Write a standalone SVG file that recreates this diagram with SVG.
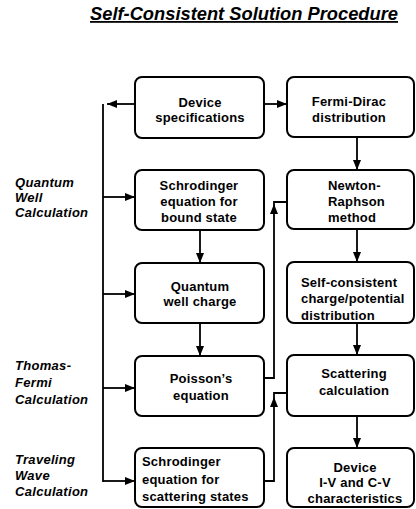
<svg xmlns="http://www.w3.org/2000/svg" xmlns:xlink="http://www.w3.org/1999/xlink" width="416" height="509" viewBox="0 0 416 509">
<style>
.box{fill:#fff;stroke:#000;stroke-width:2}
.t{font-family:"Liberation Sans",Arial,sans-serif;font-weight:bold;font-size:13px;letter-spacing:0.2px;fill:#000}
.c{text-anchor:middle}
.lab{font-family:"Liberation Sans",Arial,sans-serif;font-weight:bold;font-style:italic;font-size:13px;letter-spacing:0.3px;fill:#000}
.ttl{font-family:"Liberation Sans",Arial,sans-serif;font-weight:bold;font-style:italic;font-size:18px;text-decoration:underline;fill:#000}
.ln{fill:none;stroke:#000;stroke-width:1.8}
</style>
<defs>
<marker id="ah" viewBox="0 0 10 8" refX="10" refY="4" markerWidth="10" markerHeight="8" markerUnits="userSpaceOnUse" orient="auto">
<path d="M0,0 L10,4 L0,8 Z" fill="#000"/>
</marker>
<path id="up" d="M0,0 L4,10 L-4,10 Z" fill="#000"/>
</defs>
<text class="ttl" x="90" y="20" textLength="308" lengthAdjust="spacingAndGlyphs">Self-Consistent Solution Procedure</text>

<g id="labels">
<text class="lab" x="15" y="187">Quantum</text>
<text class="lab" x="15" y="202">Well</text>
<text class="lab" x="15" y="217">Calculation</text>
<text class="lab" x="15" y="370">Thomas-</text>
<text class="lab" x="15" y="387">Fermi</text>
<text class="lab" x="15" y="404">Calculation</text>
<text class="lab" x="15" y="464">Traveling</text>
<text class="lab" x="15" y="480">Wave</text>
<text class="lab" x="15" y="496">Calculation</text>
</g>

<g id="connectors">
<path class="ln" d="M103,104 V482"/>
<path class="ln" d="M135,104 H107" marker-end="url(#ah)"/>
<path class="ln" d="M103,197 H135" marker-end="url(#ah)"/>
<path class="ln" d="M103,294 H135" marker-end="url(#ah)"/>
<path class="ln" d="M103,388 H135" marker-end="url(#ah)"/>
<path class="ln" d="M103,481 H135" marker-end="url(#ah)"/>
<path class="ln" d="M264,104 H287" marker-end="url(#ah)"/>
<path class="ln" d="M200,230 V263" marker-end="url(#ah)"/>
<path class="ln" d="M200,323 V356" marker-end="url(#ah)"/>
<path class="ln" d="M357,137 V170" marker-end="url(#ah)"/>
<path class="ln" d="M357,229 V262" marker-end="url(#ah)"/>
<path class="ln" d="M357,323 V355" marker-end="url(#ah)"/>
<path class="ln" d="M357,416 V448" marker-end="url(#ah)"/>
<path class="ln" d="M264,378 H274 V202 H287"/>
<use xlink:href="#up" x="274" y="204"/>
<path class="ln" d="M264,481 H274 V393 H287"/>
<use xlink:href="#up" x="274" y="397"/>
</g>

<g id="device-spec">
<rect class="box" x="135" y="77" width="129" height="61" rx="7"/>
<text class="t c" x="200" y="107">Device</text>
<text class="t c" x="200" y="122">specifications</text>
</g>
<g id="schrodinger-bound">
<rect class="box" x="135" y="170" width="129" height="60" rx="7"/>
<text class="t c" x="199" y="190">Schrodinger</text>
<text class="t c" x="199" y="206">equation for</text>
<text class="t c" x="199" y="222">bound state</text>
</g>
<g id="qw-charge">
<rect class="box" x="135" y="263" width="129" height="60" rx="7"/>
<text class="t c" x="200" y="291">Quantum</text>
<text class="t c" x="200" y="306">well charge</text>
</g>
<g id="poisson">
<rect class="box" x="135" y="356" width="129" height="60" rx="7"/>
<text class="t c" x="201" y="383">Poisson’s</text>
<text class="t c" x="201" y="400">equation</text>
</g>
<g id="schrodinger-scat">
<rect class="box" x="135" y="448" width="129" height="59" rx="7"/>
<text class="t" x="142" y="466">Schrodinger</text>
<text class="t" x="142" y="484">equation for</text>
<text class="t" x="142" y="501">scattering states</text>
</g>
<g id="fermi-dirac">
<rect class="box" x="287" y="77" width="127" height="60" rx="7"/>
<text class="t c" x="349" y="106">Fermi-Dirac</text>
<text class="t c" x="349" y="122">distribution</text>
</g>
<g id="newton">
<rect class="box" x="287" y="170" width="127" height="59" rx="7"/>
<text class="t" x="328" y="190">Newton-</text>
<text class="t" x="328" y="206">Raphson</text>
<text class="t" x="328" y="222">method</text>
</g>
<g id="self-consistent">
<rect class="box" x="287" y="262" width="127" height="61" rx="7"/>
<text class="t" x="301" y="287">Self-consistent</text>
<text class="t" x="301" y="303">charge/potential</text>
<text class="t" x="301" y="320">distribution</text>
</g>
<g id="scattering">
<rect class="box" x="287" y="355" width="127" height="61" rx="7"/>
<text class="t c" x="354" y="378">Scattering</text>
<text class="t c" x="354" y="395">calculation</text>
</g>
<g id="device-iv">
<rect class="box" x="287" y="448" width="127" height="59" rx="7"/>
<text class="t c" x="355" y="472">Device</text>
<text class="t c" x="355" y="487">I-V and C-V</text>
<text class="t c" x="355" y="503">characteristics</text>
</g>
</svg>
